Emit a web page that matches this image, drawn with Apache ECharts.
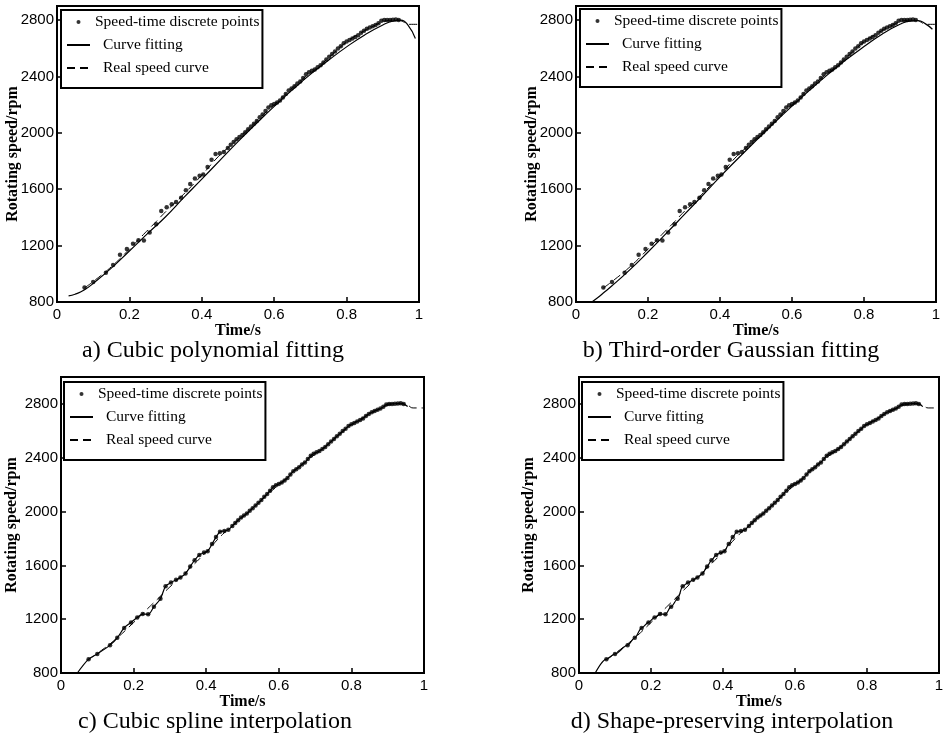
<!DOCTYPE html>
<html>
<head>
<meta charset="utf-8">
<script src="https://cdn.jsdelivr.net/npm/echarts@6/dist/echarts.min.js"></script>
<style>
  html, body { margin: 0; padding: 0; background: #fff; }
  #chart { width: 943px; height: 738px; }
</style>
</head>
<body>
<div id="chart"></div>
<script>
// speed-time discrete points (shared by all four panels)
const pointTimes = [
  0.076, 0.100, 0.135, 0.155, 0.174, 0.193, 0.210, 0.225, 0.240, 0.256,
  0.274, 0.288, 0.303, 0.317, 0.329, 0.343, 0.356, 0.368, 0.381, 0.394,
  0.404, 0.416, 0.427, 0.438, 0.450, 0.461,
  0.472, 0.480, 0.488, 0.496, 0.504, 0.512, 0.520, 0.528, 0.536, 0.544,
  0.552, 0.560, 0.568, 0.576, 0.584, 0.592, 0.600, 0.608, 0.616, 0.624,
  0.632, 0.640, 0.648, 0.656, 0.664, 0.672, 0.680, 0.688, 0.696, 0.704,
  0.712, 0.720, 0.728, 0.736, 0.744, 0.752, 0.760, 0.768, 0.776, 0.784,
  0.792, 0.800, 0.808, 0.816, 0.824, 0.832, 0.840, 0.848, 0.856, 0.864,
  0.872, 0.880, 0.888, 0.896, 0.904, 0.912, 0.920, 0.928, 0.936, 0.944
]
const pointSpeeds = [
  903, 942, 1007, 1062, 1135, 1176, 1213, 1238, 1236, 1293,
  1352, 1445, 1472, 1493, 1510, 1539, 1592, 1638, 1677, 1695,
  1705, 1758, 1810, 1850, 1855, 1864,
  1893, 1915, 1935, 1955, 1970, 1985, 2005, 2025, 2045, 2065,
  2085, 2110, 2130, 2155, 2180, 2195, 2205, 2215, 2230, 2250,
  2275, 2300, 2315, 2330, 2350, 2365, 2390, 2415, 2430, 2440,
  2450, 2465, 2480, 2500, 2520, 2540, 2560, 2578, 2598, 2615,
  2635, 2648, 2658, 2670, 2680, 2692, 2710, 2725, 2738, 2748,
  2756, 2765, 2778, 2795, 2800, 2800, 2801, 2803, 2805, 2800
]

// real speed curve (dashed)
const realTimes = [0.076, 0.10, 0.15, 0.20, 0.243, 0.27, 0.30, 0.35, 0.40, 0.445, 0.48, 0.52, 0.56,
  0.60, 0.64, 0.68, 0.72, 0.76, 0.80, 0.84, 0.88, 0.91, 0.94, 0.955, 0.97, 1.0]
const realSpeeds = [900, 945, 1050, 1175, 1290, 1360, 1440, 1565, 1700, 1830, 1912, 2005, 2105,
  2200, 2295, 2385, 2465, 2555, 2645, 2710, 2765, 2795, 2800, 2790, 2770, 2770]

// a) cubic polynomial fit
const cubicTimes = [0.032, 0.05, 0.075, 0.10, 0.15, 0.20, 0.25, 0.30, 0.35, 0.40, 0.45, 0.50,
  0.55, 0.60, 0.65, 0.70, 0.75, 0.80, 0.85, 0.90, 0.93, 0.95, 0.97, 0.99]
const cubicSpeeds = [843, 855, 885, 932, 1040, 1162, 1285, 1405, 1540, 1672, 1805, 1938,
  2065, 2188, 2305, 2415, 2515, 2610, 2695, 2765, 2795, 2800, 2762, 2670]

// b) third-order gaussian fit
const gaussTimes = [0.044, 0.06, 0.075, 0.10, 0.15, 0.20, 0.25, 0.30, 0.35, 0.40, 0.45, 0.50,
  0.55, 0.60, 0.65, 0.70, 0.75, 0.80, 0.85, 0.90, 0.93, 0.95, 0.97, 0.99]
const gaussSpeeds = [800, 830, 862, 915, 1030, 1155, 1285, 1418, 1552, 1688, 1818, 1945,
  2070, 2190, 2305, 2415, 2518, 2612, 2700, 2770, 2795, 2797, 2775, 2735]

// c) d) interpolation runs through the points, plus its two ends
const splineHead = [0.045, 800]
const splineTail = [0.955, 2780]

const captions = [
  'a) Cubic polynomial fitting',
  'b) Third-order Gaussian fitting',
  'c) Cubic spline interpolation',
  'd) Shape-preserving interpolation'
]
const legendNames = ['Speed-time discrete points', 'Curve fitting', 'Real speed curve']

const zip = (xs, ys) => xs.map((x, i) => [x, ys[i]])
const points = zip(pointTimes, pointSpeeds)
const real = zip(realTimes, realSpeeds)
const interp = [splineHead].concat(points, [splineTail])

const SERIF = '"Liberation Serif", "Times New Roman", serif'
const SANS = '"Liberation Sans", Arial, sans-serif'

const panels = [
  { grid: { left: 57, top: 6, width: 362, height: 296 }, yMax: 2900, nameGap: 36,
    legend: [61, 10], cap: [213, 339], fit: zip(cubicTimes, cubicSpeeds), smooth: true },
  { grid: { left: 576, top: 6, width: 360, height: 296 }, yMax: 2900, nameGap: 36,
    legend: [580, 9], cap: [731, 339], fit: zip(gaussTimes, gaussSpeeds), smooth: true },
  { grid: { left: 61, top: 377, width: 363, height: 296 }, yMax: 3000, nameGap: 41,
    legend: [64, 382], cap: [215, 710], fit: interp, smooth: 0.3 },
  { grid: { left: 579, top: 377, width: 360, height: 296 }, yMax: 3000, nameGap: 42,
    legend: [582, 382], cap: [732, 710], fit: interp, smooth: 0.3, monotone: 'x' }
]

const axisCommon = {
  axisLine: { lineStyle: { color: '#000', width: 2 } },
  axisTick: { inside: true, length: 5, lineStyle: { color: '#000', width: 1.5 } },
  splitLine: { show: false },
  nameTextStyle: { fontFamily: SERIF, fontWeight: 'bold', fontSize: 16, color: '#000' }
}

const legendFont = { fontFamily: SERIF, fontSize: 15.5, color: '#000', lineHeight: 18 }

const option = {
  animation: false,
  backgroundColor: '#fff',
  title: [], grid: [], xAxis: [], yAxis: [], legend: [], series: []
}

panels.forEach((p, i) => {
  option.grid.push(Object.assign({
    show: true, borderColor: '#000', borderWidth: 2, outerBoundsMode: 'none', containLabel: false
  }, p.grid))
  option.xAxis.push(Object.assign({}, axisCommon, {
    type: 'value', gridIndex: i, min: 0, max: 1, interval: 0.2,
    name: 'Time/s', nameLocation: 'middle', nameGap: 18,
    axisLabel: { color: '#000', fontFamily: SANS, fontSize: 15, margin: 5 }
  }))
  option.yAxis.push(Object.assign({}, axisCommon, {
    type: 'value', gridIndex: i, min: 800, max: p.yMax, interval: 400,
    name: 'Rotating speed/rpm', nameLocation: 'middle', nameGap: p.nameGap,
    nameMoveOverlap: false,
    axisLabel: {
      color: '#000', fontFamily: SANS, fontSize: 15, margin: 3,
      formatter: v => (v % 400 === 0 ? String(v) : '')
    }
  }))
  option.title.push({
    text: captions[i], left: p.cap[0], top: p.cap[1], textAlign: 'center', padding: 0,
    textStyle: { fontFamily: SERIF, fontWeight: 'normal', fontSize: 24, color: '#000' }
  })
  option.legend.push({
    orient: 'vertical', left: p.legend[0], top: p.legend[1],
    padding: [3, 3, 11, 5], itemGap: 5, itemWidth: 23, itemHeight: 4,
    borderColor: '#000', borderWidth: 2, backgroundColor: '#fff',
    selectedMode: false,
    textStyle: Object.assign({}, legendFont, {
      rich: { sp: Object.assign({}, legendFont, { padding: [0, 0, 0, 8] }) }
    }),
    formatter: name => (name === legendNames[0] ? name : '{sp|' + name + '}'),
    data: [
      { name: legendNames[0] },
      { name: legendNames[1], itemStyle: { opacity: 0 } },
      { name: legendNames[2], itemStyle: { opacity: 0 } }
    ]
  })
  option.series.push({
    name: legendNames[2], type: 'line', xAxisIndex: i, yAxisIndex: i,
    data: real, symbol: 'none', smooth: true, z: 1,
    itemStyle: { color: '#000' },
    lineStyle: { color: '#000', width: 1, type: [8, 5] }
  })
  option.series.push({
    name: legendNames[1], type: 'line', xAxisIndex: i, yAxisIndex: i,
    data: p.fit, symbol: 'none', smooth: p.smooth, smoothMonotone: p.monotone, z: 2,
    itemStyle: { color: '#000' },
    lineStyle: { color: '#000', width: 1.2 }
  })
  option.series.push({
    name: legendNames[0], type: 'scatter', xAxisIndex: i, yAxisIndex: i,
    data: points, symbol: 'circle', symbolSize: 4.5, z: 3,
    itemStyle: { color: '#000' }
  })
})

const chart = echarts.init(document.getElementById('chart'), null, { renderer: 'canvas' })
chart.setOption(option)
</script>
</body>
</html>
